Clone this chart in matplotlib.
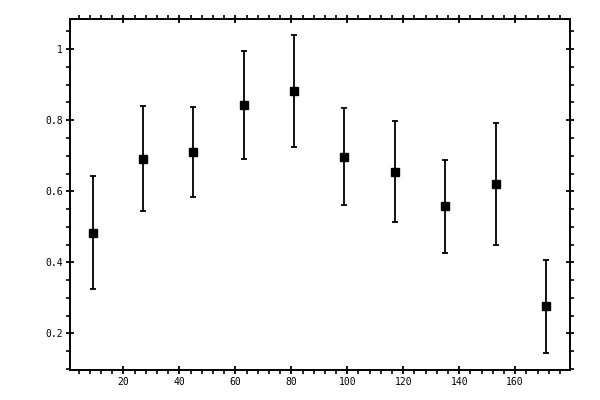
import matplotlib
matplotlib.use("Agg")
import matplotlib.pyplot as plt
from matplotlib.ticker import MultipleLocator, FormatStrFormatter

# values
x_vals = [9, 27, 45, 63, 81, 99, 117, 135, 153, 171]
y_vals = [0.482, 0.690, 0.710, 0.842, 0.882, 0.696, 0.654, 0.558, 0.620, 0.276]
y_upper = [0.643, 0.839, 0.837, 0.994, 1.039, 0.834, 0.797, 0.687, 0.792, 0.406]
y_lower = [0.325, 0.544, 0.583, 0.690, 0.724, 0.561, 0.513, 0.425, 0.448, 0.144]

err_lo = [y - lo for y, lo in zip(y_vals, y_lower)]
err_hi = [hi - y for y, hi in zip(y_vals, y_upper)]

fig = plt.figure(figsize=(6, 4), dpi=100)
ax = fig.add_axes([0.116, 0.075, 0.834, 0.877])

ax.errorbar(x_vals, y_vals, yerr=[err_lo, err_hi], fmt="s", color="black",
            markersize=5.5, elinewidth=1.3, capsize=2.2, capthick=1.3)

ax.set_xlim(0.75, 179.6)
ax.set_ylim(0.0967, 1.0845)

ax.xaxis.set_major_locator(MultipleLocator(20))
ax.xaxis.set_minor_locator(MultipleLocator(4))
ax.yaxis.set_major_locator(MultipleLocator(0.2))
ax.yaxis.set_minor_locator(MultipleLocator(0.05))
ax.yaxis.set_major_formatter(FormatStrFormatter("%g"))

for s in ax.spines.values():
    s.set_linewidth(1.4)

ax.tick_params(which="major", direction="inout", length=6, width=1.3,
               top=True, right=True, labelsize=7, pad=2)
ax.tick_params(which="minor", direction="out", length=2.6, width=1.2,
               top=True, right=True)
for lab in ax.get_xticklabels() + ax.get_yticklabels():
    lab.set_family("DejaVu Sans Mono")

fig.savefig("out.png", dpi=100)
